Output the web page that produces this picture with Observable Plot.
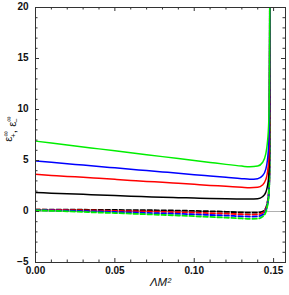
<!DOCTYPE html>
<html><head><meta charset="utf-8">
<script src="https://cdn.jsdelivr.net/npm/d3@7"></script>
<script src="https://cdn.jsdelivr.net/npm/@observablehq/plot@0.6"></script>
<style>body{margin:0;background:#fff}#chart{width:289px;height:295px}</style>
</head><body><div id="chart"></div>
<script>
// x values (ΛM²)
const xs = [0, 0.01, 0.02, 0.03, 0.04, 0.05, 0.06, 0.07, 0.08, 0.09, 0.10, 0.11, 0.12, 0.13, 0.135, 0.14, 0.143, 0.145, 0.146, 0.147, 0.1474, 0.1477];
// solid curves (ε+∞)
const greenSolid = [6.90, 6.71, 6.52, 6.33, 6.14, 5.95, 5.76, 5.57, 5.38, 5.19, 5.00, 4.81, 4.62, 4.45, 4.38, 4.45, 4.80, 5.60, 6.60, 9.0, 13.0, 25];
const blueSolid  = [4.95, 4.82, 4.68, 4.55, 4.41, 4.28, 4.15, 4.01, 3.88, 3.75, 3.61, 3.48, 3.35, 3.22, 3.17, 3.22, 3.50, 4.10, 4.90, 6.8, 10.0, 25];
const redSolid   = [3.64, 3.54, 3.44, 3.35, 3.25, 3.15, 3.05, 2.95, 2.86, 2.76, 2.66, 2.56, 2.47, 2.37, 2.33, 2.37, 2.60, 3.10, 3.70, 5.2, 7.8, 25];
const blackSolid = [1.86, 1.80, 1.74, 1.68, 1.62, 1.56, 1.50, 1.45, 1.40, 1.36, 1.32, 1.28, 1.25, 1.23, 1.22, 1.26, 1.45, 1.85, 2.40, 3.6, 5.8, 25];
// dashed curves (ε−∞)
const blackDash = [0.18, 0.18, 0.17, 0.17, 0.16, 0.15, 0.14, 0.13, 0.11, 0.09, 0.06, 0.02, -0.03, -0.09, -0.12, -0.10, 0.00, 0.30, 0.80, 2.0, 4.0, 25];
const redDash   = [0.18, 0.16, 0.14, 0.12, 0.09, 0.06, 0.03, 0.00, -0.03, -0.07, -0.11, -0.16, -0.21, -0.27, -0.30, -0.28, -0.15, 0.20, 0.70, 1.9, 4.0, 25];
const blueDash  = [0.15, 0.11, 0.08, 0.04, 0.00, -0.05, -0.09, -0.14, -0.18, -0.23, -0.28, -0.34, -0.40, -0.47, -0.50, -0.48, -0.33, 0.05, 0.60, 1.8, 3.9, 25];
const greenDash = [0.12, 0.07, 0.02, -0.04, -0.10, -0.15, -0.21, -0.27, -0.33, -0.39, -0.46, -0.53, -0.60, -0.68, -0.72, -0.70, -0.50, -0.10, 0.50, 1.7, 3.8, 25];

const xMajor = [0, 0.05, 0.10, 0.15];
const xMinor = [0.01, 0.02, 0.03, 0.04, 0.06, 0.07, 0.08, 0.09, 0.11, 0.12, 0.13, 0.14];
const yMajor = [-5, 0, 5, 10, 15, 20];
const yMinor = [-4, -3, -2, -1, 1, 2, 3, 4, 6, 7, 8, 9, 11, 12, 13, 14, 16, 17, 18, 19];

const W = 289, H = 295, mL = 35, mR = 4, mT = 7, mB = 33;
const pw = W - mL - mR, ph = H - mT - mB;

const toRows = ys => xs.map((x, i) => ({x, y: ys[i]}));
const solid = [[blackSolid, "#000000"], [redSolid, "#ff0000"], [blueSolid, "#0000ff"], [greenSolid, "#00ee00"]];
const dashed = [[blackDash, "#000000"], [redDash, "#ff0000"], [blueDash, "#0000ff"], [greenDash, "#00ee00"]];

const tickColor = "#333";
const chart = Plot.plot({
  width: W, height: H,
  marginLeft: mL, marginRight: mR, marginTop: mT, marginBottom: mB,
  style: {fontFamily: "'Liberation Sans', Arial, sans-serif", fontSize: "10px", fontWeight: "bold", background: "#fff"},
  x: {domain: [0, 0.1575]},
  y: {domain: [-5, 20]},
  marks: [
    Plot.ruleY([0], {stroke: "#b0b0b0", strokeWidth: 1}),
    ...dashed.map(([ys, c]) => Plot.line(toRows(ys), {x: "x", y: "y", stroke: c, strokeWidth: 1.8, strokeDasharray: "4.5,2.5", clip: true, curve: "monotone-x"})),
    ...solid.map(([ys, c]) => Plot.line(toRows(ys), {x: "x", y: "y", stroke: c, strokeWidth: 1.5, clip: true, curve: "monotone-x"})),
    // inward ticks on all four sides
    Plot.tickX(xMajor, {x: d => d, stroke: tickColor, insetTop: ph - 4}),
    Plot.tickX(xMinor, {x: d => d, stroke: tickColor, insetTop: ph - 2.5}),
    Plot.tickX(xMajor, {x: d => d, stroke: tickColor, insetBottom: ph - 4}),
    Plot.tickX(xMinor, {x: d => d, stroke: tickColor, insetBottom: ph - 2.5}),
    Plot.tickY(yMajor, {y: d => d, stroke: tickColor, insetRight: pw - 4}),
    Plot.tickY(yMinor, {y: d => d, stroke: tickColor, insetRight: pw - 2.5}),
    Plot.tickY(yMajor, {y: d => d, stroke: tickColor, insetLeft: pw - 4}),
    Plot.tickY(yMinor, {y: d => d, stroke: tickColor, insetLeft: pw - 2.5}),
    Plot.frame({stroke: tickColor, strokeWidth: 1}),
    Plot.axisX(xMajor, {tickSize: 0, tickPadding: 4, tickFormat: d3.format(".2f"), label: null, fill: "#111"}),
    Plot.axisY(yMajor, {tickSize: 0, tickPadding: 7, dy: -1, tickFormat: d => d < 0 ? "\u2212" + Math.abs(d) : String(d), label: null, fill: "#111"}),
    Plot.text(["ΛM²"], {frameAnchor: "bottom", dy: 23, text: d => d, fontStyle: "italic", fontSize: 11.5, fontWeight: "normal", fill: "#111"})
  ]
});
document.getElementById("chart").appendChild(chart);

// y-axis label with stacked sub/superscripts
const svg = d3.select(chart);
const lab = svg.append("text")
  .attr("transform", "translate(12,129) rotate(-90)")
  .attr("text-anchor", "middle")
  .attr("fill", "#111")
  .style("font-family", "'Liberation Sans', Arial, sans-serif")
  .style("font-size", "11.5px")
  .style("font-weight", "normal");
function part(main, sup, sub) {
  lab.append("tspan").text(main);
  lab.append("tspan").attr("dy", -4.5).style("font-size", "7.5px").text(sup);
  lab.append("tspan").attr("dx", -6.5).attr("dy", 8).style("font-size", "7.5px").text(sub);
  lab.append("tspan").attr("dy", -3.5).text("");
}
part("ε", "∞", "+");
lab.append("tspan").text(", ");
part("ε", "∞", "−");
</script>
</body></html>
